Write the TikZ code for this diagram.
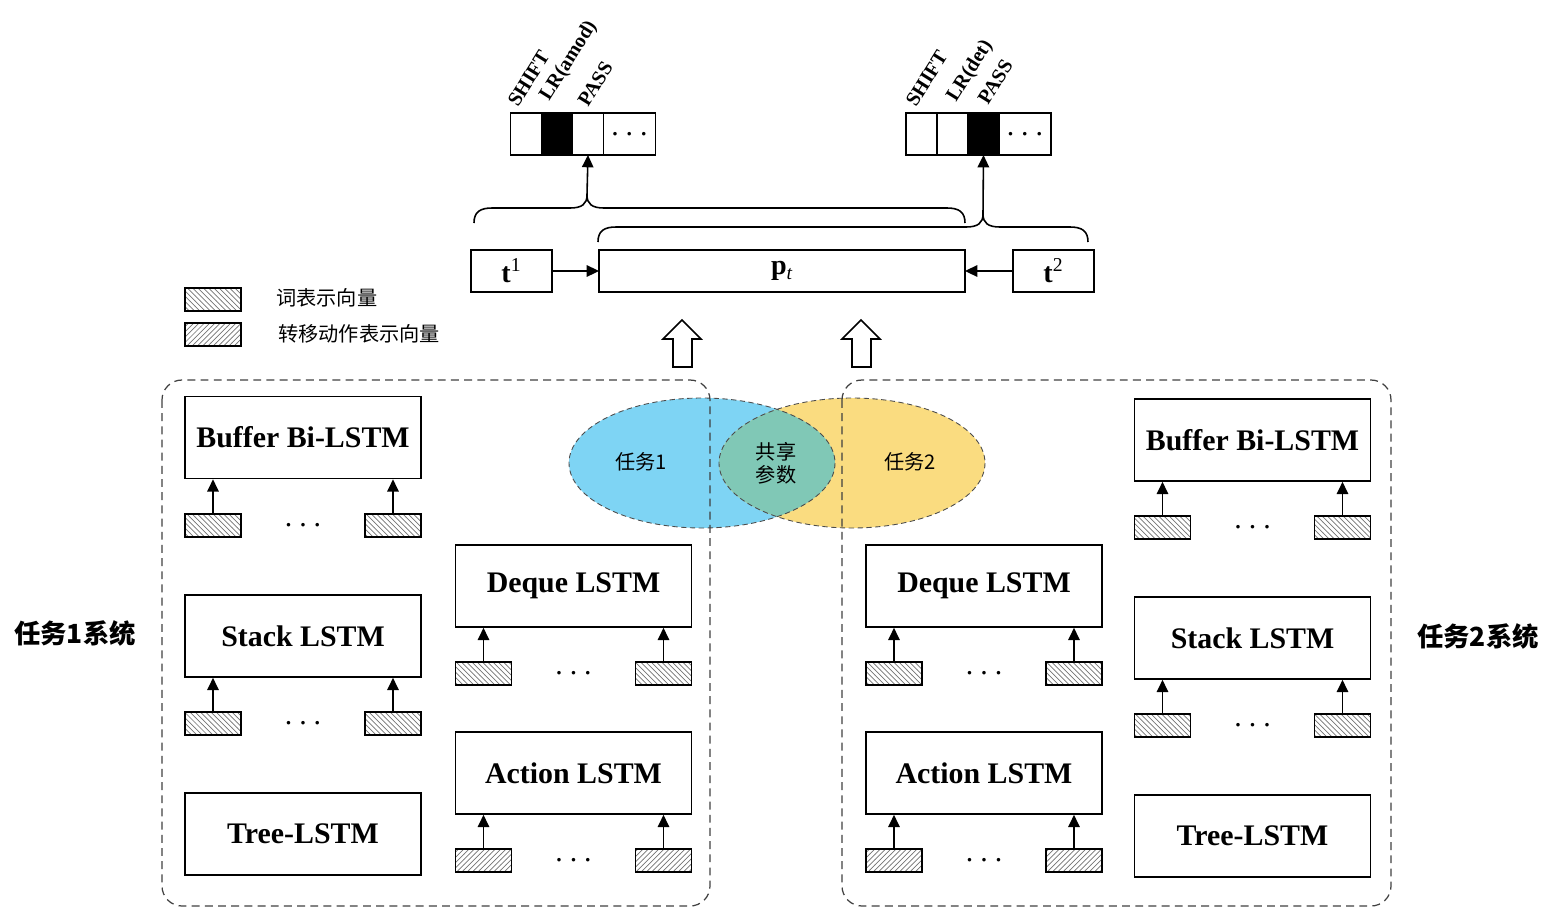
\documentclass[tikz,border=0pt]{standalone}
\usepackage{fontspec}
\setmainfont{Liberation Serif}
\newfontfamily\cjk{Noto Sans CJK SC}
\usetikzlibrary{arrows.meta,patterns,calc,positioning}

\definecolor{taskblue}{RGB}{126,212,244}
\definecolor{taskyellow}{RGB}{250,220,128}
\definecolor{sharedgreen}{RGB}{128,200,182}

\tikzset{
  lstm/.style={draw,line width=0.9pt,minimum width=4.72cm,minimum height=1.64cm,inner sep=0pt,font=\fontsize{17}{20}\selectfont\bfseries},
  wordvec/.style={draw,line width=0.8pt,minimum width=1.12cm,minimum height=0.46cm,inner sep=0pt,pattern=north west lines,pattern color=black!55},
  actvec/.style={wordvec,pattern=north east lines},
  feedarrow/.style={-{Triangle[length=7pt,width=6.5pt]},line width=0.9pt},
  outcell/.style={draw,line width=0.9pt,minimum width=0.62cm,minimum height=0.84cm,inner sep=0pt,outer sep=0pt},
  acttag/.style={rotate=58,anchor=base west,inner sep=0pt,font=\fontsize{11.5}{13}\selectfont\bfseries},
  vecbox/.style={draw,line width=0.9pt,minimum height=0.84cm,inner sep=0pt,outer sep=0pt,font=\fontsize{16}{18}\selectfont},
  sysbox/.style={draw=black!75,line width=0.7pt,dash pattern=on 4.5pt off 3pt,rounded corners=0.4cm},
  venn/.style={draw=black!70,line width=0.5pt,dash pattern=on 3pt off 2pt},
  dotsnode/.style={inner sep=0pt,font=\fontsize{17}{20}\selectfont},
  cjklabel/.style={font=\cjk\fontsize{11.5}{15}\selectfont},
  hollowup/.pic={\draw[line width=0.9pt] (0,0) -- (19,19) -- (10,19) -- (10,47) -- (-9,47) -- (-9,19) -- (-19,19) -- cycle;}
}

\begin{document}
\begin{tikzpicture}[x=0.02cm,y=-0.02cm]
\useasboundingbox (0,0) rectangle (1553,907);

% output vectors
\node[outcell] (o1a) at (526,134) {};
\node[outcell,fill=black,right=0pt of o1a] (o1b) {};
\node[outcell,right=0pt of o1b] (o1c) {};
\node[outcell,minimum width=1.04cm,right=0pt of o1c,font=\fontsize{17}{20}\selectfont] (o1d) {.\hspace{4pt}.\hspace{4pt}.};
\node[outcell] (o2a) at (921.5,134) {};
\node[outcell,right=0pt of o2a] (o2b) {};
\node[outcell,fill=black,right=0pt of o2b] (o2c) {};
\node[outcell,minimum width=1.04cm,right=0pt of o2c,font=\fontsize{17}{20}\selectfont] (o2d) {.\hspace{4pt}.\hspace{4pt}.};

\node[acttag] (tag1a) at (518,108) {SHIFT};
\node[acttag] (tag1b) at (549,102) {LR(amod)};
\node[acttag] (tag1c) at (588,108) {PASS};
\node[acttag] (tag2a) at (916,108) {SHIFT};
\node[acttag] (tag2b) at (956,103) {LR(det)};
\node[acttag] (tag2c) at (988,106) {PASS};

% braces
\coordinate (tip1) at (587,195);
\coordinate (tip2) at (983,214);
\draw[line width=0.9pt] (474,223) .. controls (474,212) and (480,208) .. (492,208) -- (570,208)
  .. controls (582,208) and (587,204) .. (tip1) .. controls (587,204) and (592,208) .. (604,208)
  -- (947,208) .. controls (959,208) and (965,212) .. (965,223);
\draw[line width=0.9pt] (598,242) .. controls (598,231) and (604,227) .. (616,227) -- (966,227)
  .. controls (978,227) and (983,223) .. (tip2) .. controls (983,223) and (988,227) .. (1000,227)
  -- (1070,227) .. controls (1082,227) and (1088,231) .. (1088,242);
\draw[feedarrow] (tip1) -- (o1c.south);
\draw[feedarrow] (tip2) -- (o2c.south);

% shared vector row
\node[vecbox,minimum width=1.62cm] (t1) at (511.5,271) {\textbf{t}\textsuperscript{1}};
\node[vecbox,minimum width=7.32cm] (pt) at (782,271) {\textbf{p}\textsubscript{\itshape t}};
\node[vecbox,minimum width=1.62cm] (t2) at (1053.5,271) {\textbf{t}\textsuperscript{2}};
\draw[feedarrow] (t1) -- (pt);
\draw[feedarrow] (t2) -- (pt);

% legend
\node[wordvec] (lgw) at (213,299.5) {};
\node[cjklabel,anchor=west] (lgwtxt) at (270,298) {词表示向量};
\node[actvec] (lga) at (213,334.5) {};
\node[cjklabel,anchor=west] (lgatxt) at (272,334) {转移动作表示向量};

% hollow arrows
\pic at (682,320) {hollowup};
\pic at (861,320) {hollowup};

% task ellipses
\fill[taskblue] (702,463) ellipse [x radius=133, y radius=65];
\fill[taskyellow] (852,463) ellipse [x radius=133, y radius=65];
\begin{scope}
  \clip (702,463) ellipse [x radius=133, y radius=65];
  \fill[sharedgreen] (852,463) ellipse [x radius=133, y radius=65];
\end{scope}
\draw[venn] (702,463) ellipse [x radius=133, y radius=65];
\draw[venn] (852,463) ellipse [x radius=133, y radius=65];
\node[cjklabel] (task1) at (641,462) {任务1};
\node[cjklabel] (task2) at (910,462) {任务2};
\node[cjklabel,align=center] (shared) at (776,463) {共享\\[-2pt]参数};

% systems
\draw[sysbox] (162,380) rectangle (710,906);
\draw[sysbox] (842,380) rectangle (1391,906);
\node[font=\cjk\bfseries\fontsize{15}{18}\selectfont] (sys1) at (75,633) {任务1系统};
\node[font=\cjk\bfseries\fontsize{15}{18}\selectfont] (sys2) at (1478,636) {任务2系统};

\foreach \nm/\cx/\cy/\iy/\vs/\txt in {
  bufL/303/437.5/525.5/wordvec/Buffer Bi-LSTM,
  stackL/303/636/723.5/wordvec/Stack LSTM,
  dequeL/573.5/586/673.5/wordvec/Deque LSTM,
  actL/573.5/773/860.5/actvec/Action LSTM,
  bufR/1252.5/440/527.5/wordvec/Buffer Bi-LSTM,
  stackR/1252.5/638/725.5/wordvec/Stack LSTM,
  dequeR/984/586/673.5/wordvec/Deque LSTM,
  actR/984/773/860.5/actvec/Action LSTM}{
  \node[lstm] (\nm) at (\cx,\cy) {\txt};
  \node[\vs] (\nm-in1) at (\cx-90,\iy) {};
  \node[\vs] (\nm-in2) at (\cx+90,\iy) {};
  \node[dotsnode] (\nm-dots) at (\cx,\iy) {.\hspace{4pt}.\hspace{4pt}.};
  \draw[feedarrow] (\nm-in1) -- (\nm-in1 |- \nm.south);
  \draw[feedarrow] (\nm-in2) -- (\nm-in2 |- \nm.south);
}
\node[lstm] (treeL) at (303,834) {Tree-LSTM};
\node[lstm] (treeR) at (1252.5,836) {Tree-LSTM};
\end{tikzpicture}
\end{document}
